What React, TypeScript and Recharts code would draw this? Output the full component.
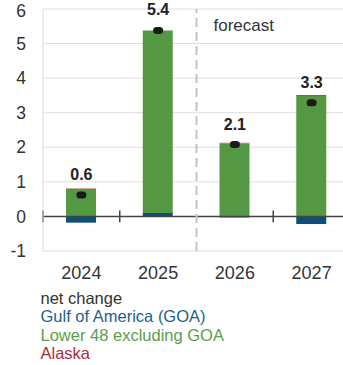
import {
  ComposedChart, Bar, Line, XAxis, YAxis, CartesianGrid,
  ReferenceLine, LabelList,
} from "recharts";

const years = ["2024", "2025", "2026", "2027"];
const gulfOfAmerica = [-0.18, 0.1, -0.03, -0.22];
const lower48 = [0.8, 5.28, 2.12, 3.48];
const alaska = [0.01, 0.0, 0.01, 0.03];
const netChange = [0.62, 5.38, 2.08, 3.29];
const yTicks = [-1, 0, 1, 2, 3, 4, 5, 6];
const boundaryTicks = ["2024", "2025", "2027"];

const data = years.map((year, i) => ({
  year,
  goa: gulfOfAmerica[i],
  lower48: lower48[i],
  alaska: alaska[i],
  net: netChange[i],
}));

const BLUE = "#0d4f78";
const GREEN = "#559844";
const RED = "#c0303f";
const TEXT = "#333";
const FONT = "'Liberation Sans', Arial, sans-serif";

const NetDot = (props: any) => {
  const { cx, cy } = props;
  if (cx == null || cy == null) return null;
  return <rect x={cx - 5} y={cy - 3.5} width={10} height={7} rx={3.5} fill="#1a1a1a" />;
};

const NetLabel = (props: any) => {
  const { x, y, value } = props;
  return (
    <text x={x} y={y - 15} textAnchor="middle" fill="#222" fontSize={16} fontWeight="bold" fontFamily={FONT}>
      {Number(value).toFixed(1)}
    </text>
  );
};

const ForecastLabel = (props: any) => {
  const { viewBox } = props;
  return (
    <text x={viewBox.x + 17} y={viewBox.y + 22} fill={TEXT} fontSize={17} fontFamily={FONT}>
      forecast
    </text>
  );
};

export default function App() {
  return (
    <div style={{ position: "fixed", left: 0, top: 0, width: 343, height: 365, overflow: "hidden", background: "#fff", fontFamily: FONT }}>
      <ComposedChart
        width={350}
        height={292}
        data={data}
        stackOffset="sign"
        margin={{ top: 9, right: 0, left: 0, bottom: 0 }}
      >
        <CartesianGrid stroke="#dddddd" vertical={false} />
        <XAxis
          dataKey="year"
          axisLine={false}
          tickLine={false}
          tickSize={0}
          tickMargin={15}
          height={41}
          tick={{ fill: TEXT, fontSize: 18, fontFamily: FONT }}
        />
        <YAxis
          domain={[-1, 6]}
          ticks={yTicks}
          width={43}
          axisLine={{ stroke: "#d8d8d8" }}
          tickLine={false}
          tickSize={0}
          tickMargin={17}
          tick={{ fill: TEXT, fontSize: 17.5, fontFamily: FONT }}
        />
        <Bar dataKey="goa" stackId="s" fill={BLUE} barSize={30} isAnimationActive={false} />
        <Bar dataKey="lower48" stackId="s" fill={GREEN} barSize={30} isAnimationActive={false} />
        <Bar dataKey="alaska" stackId="s" fill={RED} barSize={30} isAnimationActive={false} />
        <ReferenceLine y={0} stroke="#444" strokeWidth={1.5} />
        {boundaryTicks.map((y) => (
          <ReferenceLine
            key={y}
            position="start"
            segment={[{ x: y, y: 0.17 }, { x: y, y: -0.17 }]}
            stroke="#444"
            strokeWidth={1.5}
          />
        ))}
        <ReferenceLine
          x="2026"
          position="start"
          stroke="#c4c4c4"
          strokeWidth={2}
          strokeDasharray="9 5"
          label={<ForecastLabel />}
        />
        <Line
          dataKey="net"
          stroke="none"
          dot={<NetDot />}
          activeDot={false}
          isAnimationActive={false}
        >
          <LabelList dataKey="net" content={<NetLabel />} />
        </Line>
      </ComposedChart>
      <div style={{ position: "absolute", left: 40.5, top: 288.5, fontSize: 16.5, lineHeight: "18.5px" }}>
        <div style={{ color: TEXT }}>net change</div>
        <div style={{ color: "#1b5f8c" }}>Gulf of America (GOA)</div>
        <div style={{ color: "#5a9e4a" }}>Lower 48 excluding GOA</div>
        <div style={{ color: "#b02a3c" }}>Alaska</div>
      </div>
    </div>
  );
}
